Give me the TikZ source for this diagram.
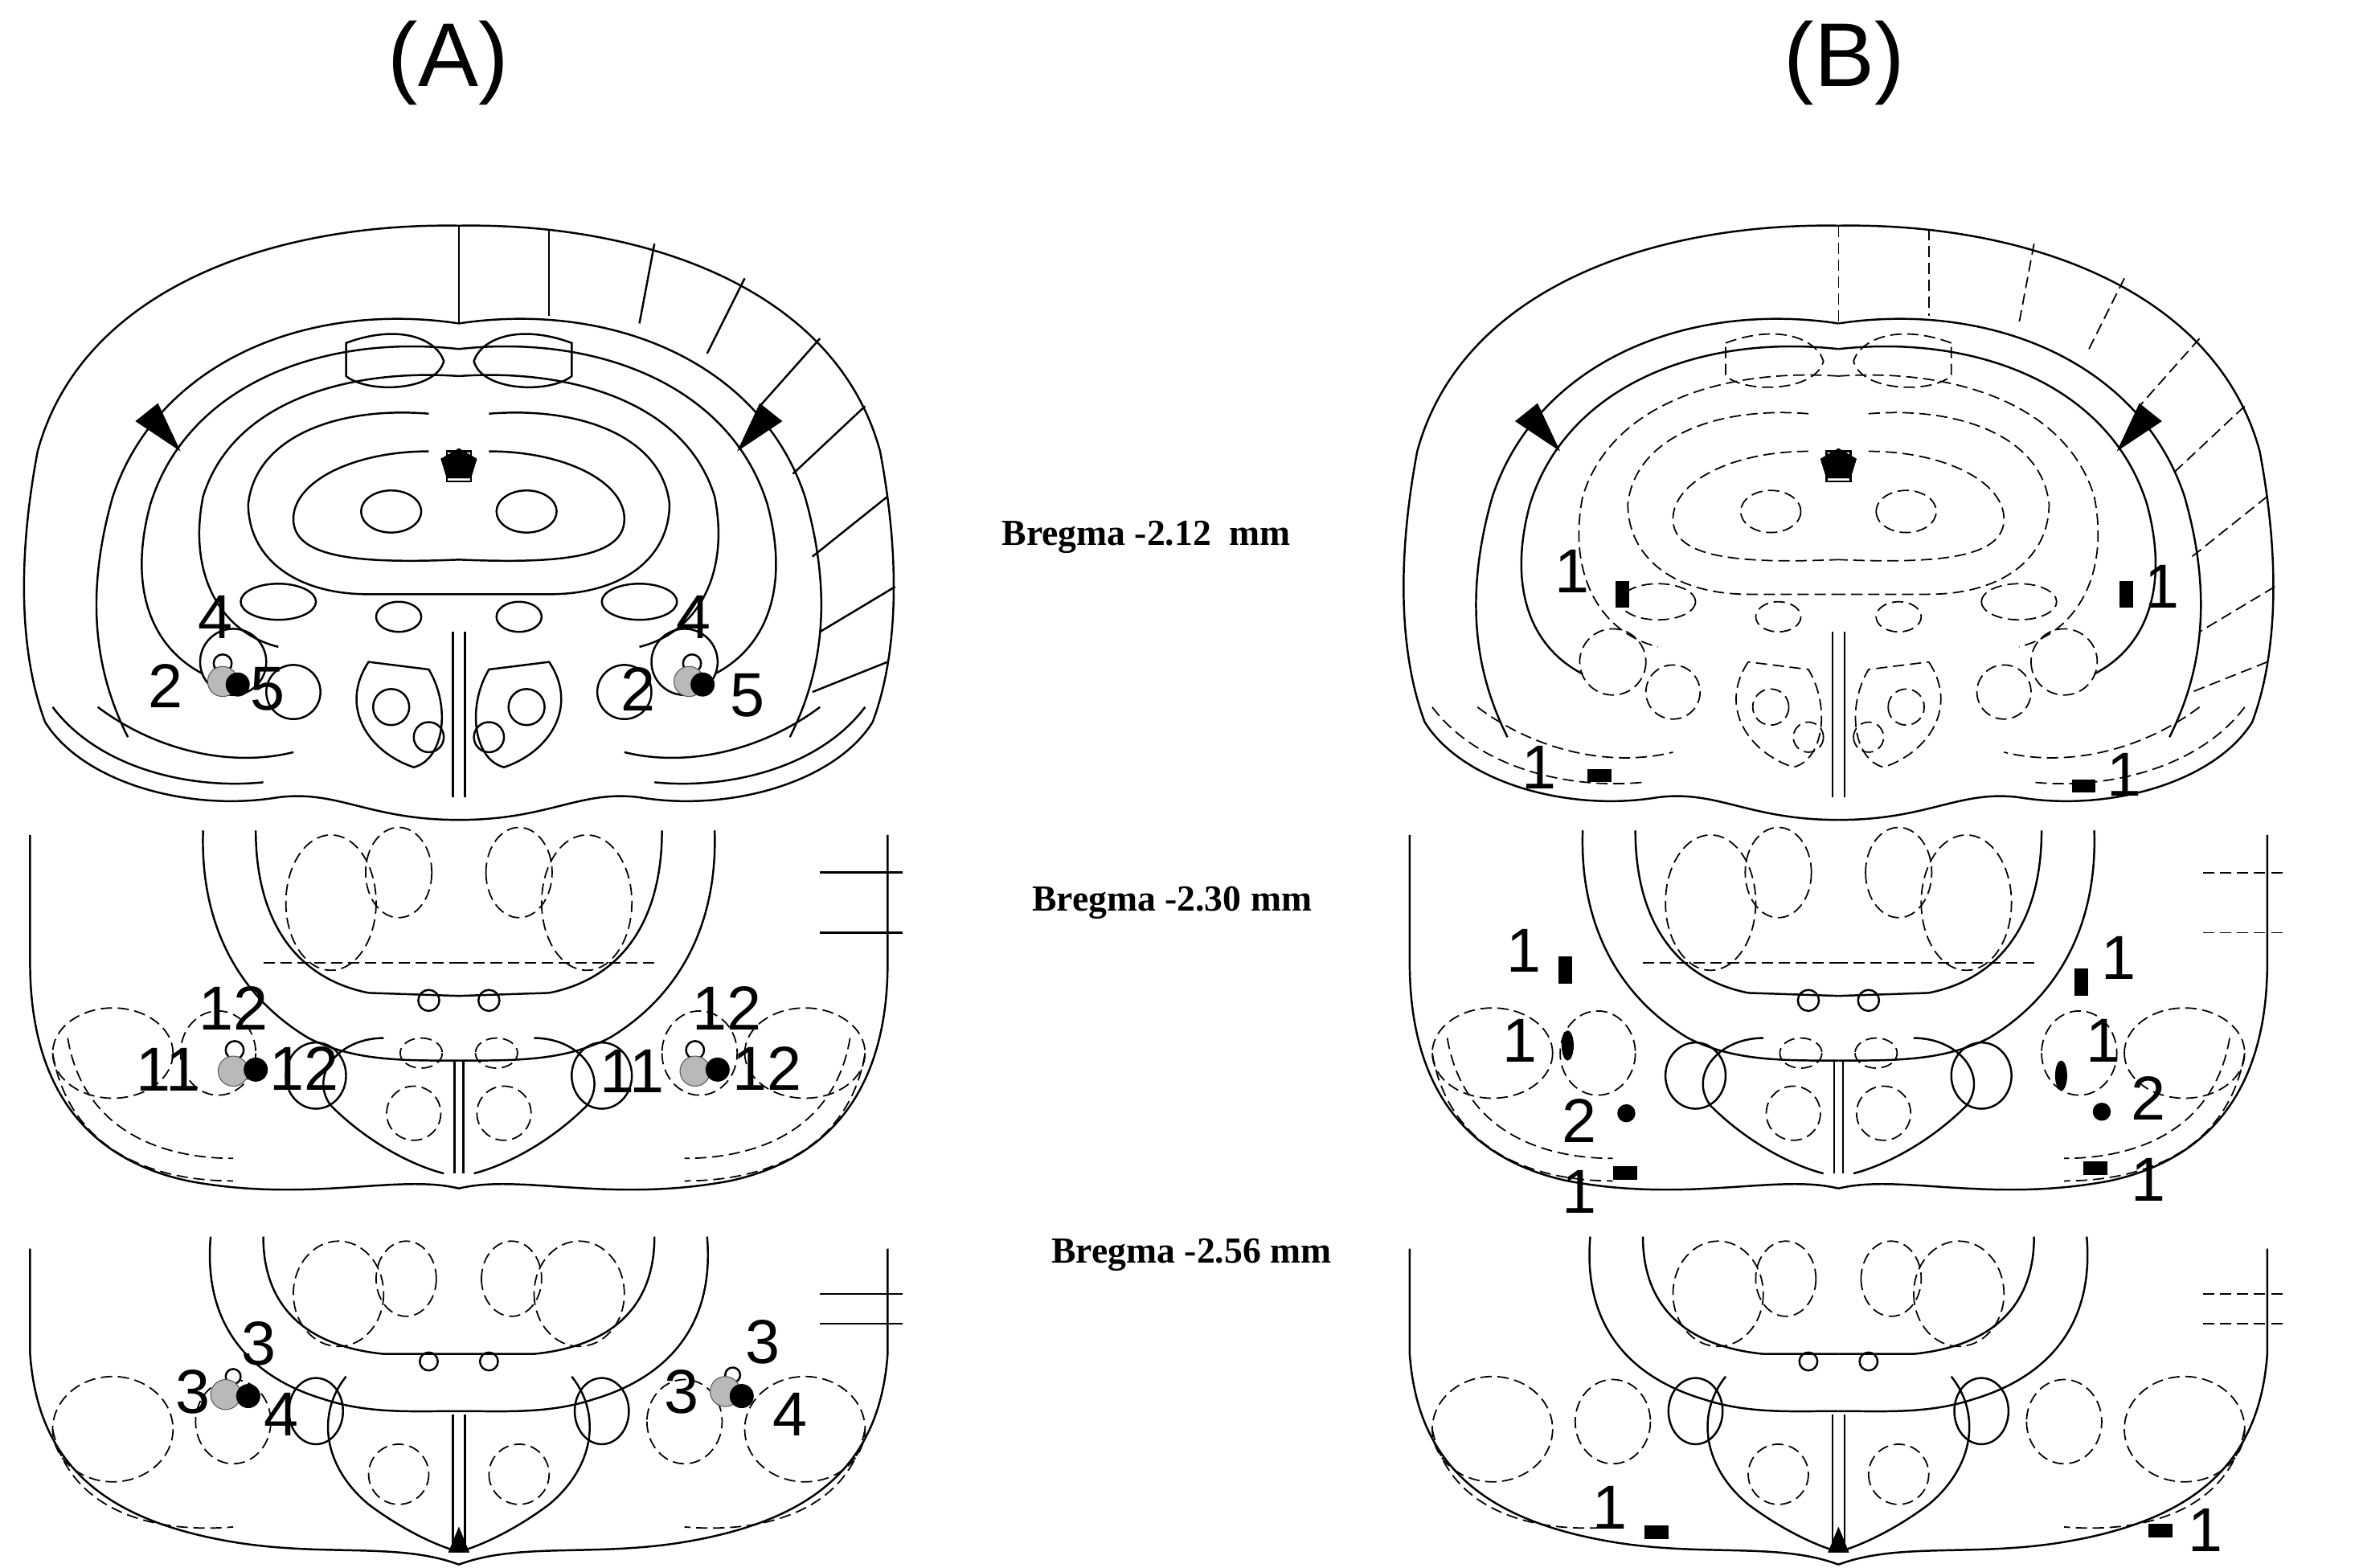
\documentclass[tikz,border=0pt]{standalone}
\usepackage{fontspec}
\setmainfont{Liberation Sans}
\newfontfamily\serifb{Liberation Serif}
\begin{document}
\begin{tikzpicture}[x={(0.01872cm,0)},y={(0,-0.01872cm)},
 ol/.style={line width=0.7pt},
 ds/.style={line width=0.5pt,dashed,dash pattern=on 4pt off 2pt},
 num/.style={font=\fontsize{22}{22}\selectfont,inner sep=0pt},
 brg/.style={font=\serifb\bfseries\fontsize{13}{13}\selectfont},
 hd/.style={font=\fontsize{32}{32}\selectfont},
 gdot/.style={fill=gray!55,draw=gray!70!black,line width=0.3pt},
 bdot/.style={fill=black}]
\useasboundingbox (0,0) rectangle (1568,1042);
\newcommand\toph[1]{%
 \draw[ol] (0,150) .. controls (-120,148) and (-250,190) .. (-280,300) .. controls (-295,380) and (-290,440) .. (-275,480)
   .. controls (-250,520) and (-180,540) .. (-120,530) .. controls (-80,525) and (-60,545) .. (0,545);
 \draw[ol] (0,215) .. controls (-100,200) and (-200,240) .. (-230,330) .. controls (-250,400) and (-240,450) .. (-220,490);
 \draw[ol] (0,232) .. controls (-90,222) and (-180,255) .. (-205,335) .. controls (-220,390) and (-205,430) .. (-170,448);
 \draw[#1] (0,250) .. controls (-70,245) and (-150,265) .. (-170,330) .. controls (-180,380) and (-160,420) .. (-120,430);
 \draw[#1] (-20,275) .. controls (-80,270) and (-135,290) .. (-140,335) .. controls (-140,370) and (-110,395) .. (-60,395) -- (0,395);
 \draw[#1] (-20,300) .. controls (-70,300) and (-110,320) .. (-110,345) .. controls (-110,370) and (-70,375) .. (0,372);
 \draw[#1] (-75,228) .. controls (-40,215) and (-15,225) .. (-10,240) .. controls (-15,260) and (-60,262) .. (-75,250) -- cycle;
 \fill (-215,280) -- (-200,268) -- (-185,300) -- cycle;
 \draw[#1] (-240,470) .. controls (-200,500) and (-150,510) .. (-110,500);
 \draw[#1] (-270,470) .. controls (-240,510) and (-180,525) .. (-130,520);
 \draw[#1] (-150,440) circle (22); \draw[#1] (-110,460) circle (18);
 \draw[#1] (-60,440) .. controls (-80,470) and (-60,500) .. (-30,510) .. controls (-10,505) and (-5,470) .. (-20,445) -- cycle;
 \draw[#1] (-45,470) circle (12); \draw[#1] (-20,490) circle (10);
 \draw[#1] (-120,400) ellipse (25 and 12);
 \draw[#1] (-40,410) ellipse (15 and 10);
 \draw[#1] (-45,340) ellipse (20 and 14);
 \draw[ol] (-4,420) -- (-4,530); \draw[ol] (-8,300) rectangle (8,320);
 \fill (-12,305) -- (0,298) -- (12,305) -- (8,318) -- (-8,318) -- cycle;
}
\newcommand\midh[1]{%
 \draw[ol] (-285,555) -- (-285,640) .. controls (-285,720) and (-250,770) .. (-180,785) .. controls (-100,800) and (-40,780) .. (0,790);
 \draw[ol] (-170,552) .. controls (-172,610) and (-150,660) .. (-100,690) .. controls (-70,705) and (-40,705) .. (0,705);
 \draw[ol] (-135,552) .. controls (-135,610) and (-110,650) .. (-60,660) -- (0,662);
 \draw[ol] (-50,690) .. controls (-80,690) and (-100,715) .. (-85,735) .. controls (-60,760) and (-30,775) .. (-10,780);
 \draw[ol] (-95,715) ellipse (20 and 22);
 \draw[#1] (-85,600) ellipse (30 and 45);
 \draw[#1] (-40,580) ellipse (22 and 30);
 \draw[#1] (-130,640) -- (0,640);
 \draw[#1] (-230,700) ellipse (40 and 30);
 \draw[#1] (-260,690) .. controls (-250,750) and (-200,770) .. (-150,770);
 \draw[#1] (-270,700) .. controls (-260,760) and (-210,785) .. (-150,785);
 \draw[#1] (-160,700) ellipse (25 and 28);
 \draw[#1] (-30,740) circle (18); \draw[#1] (-25,700) ellipse (14 and 10);
 \draw[ol] (-20,665) circle (7);
 \draw[ol] (-3,705) -- (-3,780);
}
\newcommand\both[1]{%
 \draw[ol] (-285,830) -- (-285,900) .. controls (-280,970) and (-240,1010) .. (-150,1025) .. controls (-90,1035) and (-40,1025) .. (0,1040);
 \draw[ol] (-165,822) .. controls (-170,880) and (-140,915) .. (-90,930) .. controls (-60,940) and (-30,938) .. (0,938);
 \draw[ol] (-130,822) .. controls (-130,870) and (-100,895) .. (-50,900) -- (0,900);
 \draw[ol] (-75,915) .. controls (-95,940) and (-90,975) .. (-60,1000) .. controls (-40,1015) and (-20,1025) .. (-5,1030);
 \draw[ol] (-95,938) ellipse (18 and 22);
 \draw[#1] (-80,860) ellipse (30 and 35);
 \draw[#1] (-35,850) ellipse (20 and 25);
 \draw[#1] (-230,950) ellipse (40 and 35);
 \draw[#1] (-270,950) .. controls (-260,1000) and (-210,1020) .. (-150,1015);
 \draw[#1] (-150,945) ellipse (25 and 28);
 \draw[#1] (-40,980) circle (20);
 \draw[ol] (-20,905) circle (6);
 \draw[ol] (-4,940) -- (-4,1030);
 \fill (0,1015) -- (-7,1032) -- (7,1032) -- cycle;
}
\newcommand\radials[1]{%
 \foreach \a/\b/\c/\d in {0/150/0/215, 60/152/60/210, 130/162/120/215, 190/185/165/235, 240/225/200/270, 270/270/222/315, 285/330/235/370, 290/390/240/420, 285/440/235/460}
   \draw[#1] (\a,\b) -- (\c,\d);
 \foreach \a/\b/\c/\d in {295/580/240/580, 295/620/240/620, 295/860/240/860, 295/880/240/880}
   \draw[#1] (\a,\b) -- (\c,\d);
}
% Panel A
\begin{scope}[shift={(305,0)}]
 \toph{ol} \midh{ds} \both{ds}
 \begin{scope}[xscale=-1]\toph{ol} \midh{ds} \both{ds}\end{scope}
 \radials{ol}
\end{scope}
% Panel B
\begin{scope}[shift={(1222,0)}]
 \toph{ds} \midh{ds} \both{ds}
 \begin{scope}[xscale=-1]\toph{ds} \midh{ds} \both{ds}\end{scope}
 \radials{ds}
\end{scope}
% headers
\node[hd] at (298,42) {(A)};
\node[hd] at (1226,42) {(B)};
\node[brg] at (762,357) {Bregma -2.12\ \ mm};
\node[brg] at (779,600) {Bregma -2.30 mm};
\node[brg] at (792,834) {Bregma -2.56 mm};
% A markers
\node[num] at (143,410) {4}; \node[num] at (110,456) {2}; \node[num] at (178,458) {5};
\draw[ol,fill=white] (148,441) circle (6); \path[gdot] (148,453) circle (10); \path[bdot] (158,455) circle (8);
\node[num] at (461,410) {4}; \node[num] at (424,458) {2}; \node[num] at (497,462) {5};
\draw[ol,fill=white] (460,441) circle (6); \path[gdot] (458,453) circle (10); \path[bdot] (467,455) circle (8);
\node[num] at (155,670) {12}; \node[num] at (112,711) {11}; \node[num] at (202,710) {12};
\draw[ol,fill=white] (156,698) circle (6); \path[gdot] (155,712) circle (10); \path[bdot] (170,711) circle (8);
\node[num] at (483,670) {12}; \node[num] at (420,712) {11}; \node[num] at (510,710) {12};
\draw[ol,fill=white] (462,698) circle (6); \path[gdot] (462,712) circle (10); \path[bdot] (477,711) circle (8);
\node[num] at (172,893) {3}; \node[num] at (128,925) {3}; \node[num] at (187,940) {4};
\draw[ol,fill=white] (155,915) circle (5); \path[gdot] (150,927) circle (10); \path[bdot] (165,928) circle (8);
\node[num] at (507,892) {3}; \node[num] at (453,925) {3}; \node[num] at (525,940) {4};
\draw[ol,fill=white] (487,914) circle (5); \path[gdot] (482,925) circle (10); \path[bdot] (493,928) circle (8);
% B markers
\node[num] at (1045,380) {1}; \fill (1074,386) rectangle (1083,404);
\node[num] at (1437,390) {1}; \fill (1409,386) rectangle (1418,404);
\node[num] at (1023,510) {1}; \fill (1055,511) rectangle (1071,520);
\node[num] at (1412,515) {1}; \fill (1377,518) rectangle (1393,527);
\node[num] at (1013,632) {1}; \fill (1036,636) rectangle (1045,654);
\node[num] at (1408,637) {1}; \fill (1379,644) rectangle (1388,662);
\node[num] at (1010,692) {1}; \fill (1042,695) ellipse (4 and 10);
\node[num] at (1398,692) {1}; \fill (1370,715) ellipse (4 and 10);
\node[num] at (1050,745) {2}; \fill (1081,740) circle (6);
\node[num] at (1428,730) {2}; \fill (1397,739) circle (6);
\node[num] at (1050,792) {1}; \fill (1072,775) rectangle (1088,784);
\node[num] at (1428,784) {1}; \fill (1385,772) rectangle (1401,781);
\node[num] at (1070,1002) {1}; \fill (1093,1014) rectangle (1109,1023);
\node[num] at (1466,1017) {1}; \fill (1428,1013) rectangle (1444,1022);
\end{tikzpicture}
\end{document}
